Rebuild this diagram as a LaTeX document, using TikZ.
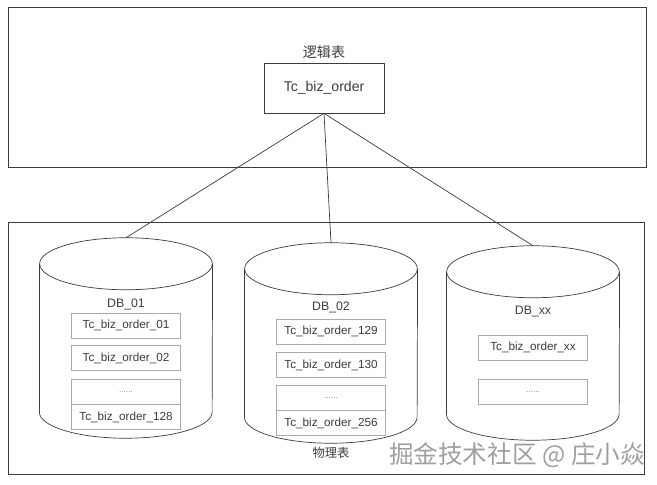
\documentclass[tikz,border=0pt]{standalone}
\usepackage{fontspec}
\setmainfont{Liberation Sans}
\newfontfamily\cjk{Noto Sans CJK SC}
\usepackage{tikz}
\usetikzlibrary{positioning}
\definecolor{inkgray}{HTML}{3C3C3C}
\definecolor{boxgray}{HTML}{ABABAB}

\begin{document}
\begin{tikzpicture}[
      x=0.03cm, y=0.03cm,
      frame/.style={rectangle, draw=inkgray, line width=0.6pt, inner sep=0pt},
      tbl/.style={rectangle, draw=inkgray, line width=0.6pt, fill=white, minimum width=3.6cm,
                  minimum height=1.5cm, text=inkgray, font=\fontsize{12}{14}\selectfont},
      dbbody/.style={rectangle, inner sep=0pt, minimum width=5.18cm, minimum height=6cm},
      dbname/.style={text=inkgray, font=\fontsize{10.5}{12}\selectfont},
      part/.style={rectangle, draw=boxgray, line width=0.45pt, minimum width=3.27cm, minimum height=0.75cm,
                   inner sep=0pt, text=inkgray, font=\fontsize{10}{12}\selectfont},
      dots/.style={part, text=gray, font=\fontsize{7}{8}\selectfont},
      link/.style={draw=inkgray, line width=0.6pt},
    ]
    \useasboundingbox (0,0) rectangle (657,484);

    % logical / physical frames
    \node[frame, minimum width=19.14cm, minimum height=4.8cm] (logic) at (327,397) {};
    \node[frame, minimum width=19.08cm, minimum height=7.56cm] (phys) at (326,136) {};

    \node[tbl] (o) at (324,396) {Tc\_biz\_order};
    \node[above=0pt of o, text=inkgray, font=\cjk\fontsize{12}{14}\selectfont] (ol) {逻辑表};

    % databases
    \node[dbbody] (db1) at (126,146) {};
    \node[dbbody] (db2) at (331,141) {};
    \node[dbbody, minimum height=5.82cm] (db3) at (533,141) {};
    \foreach \d in {db1,db2,db3} {
      \draw[link] ([yshift=-0.78cm]\d.north west) -- ([yshift=0.78cm]\d.south west)
        arc[start angle=180, end angle=360, x radius=2.59cm, y radius=0.78cm]
        -- ([yshift=-0.78cm]\d.north east);
      \draw[link] ([yshift=-0.78cm]\d.north) ellipse[x radius=2.59cm, y radius=0.78cm];
    }

    \node[dbname] (n1) at ([yshift=-2.01cm]db1.north) {DB\_01};
    \node[part, below=0.24cm of n1.center] (t11) {Tc\_biz\_order\_01};
    \node[part, below=0.21cm of t11] (t12) {Tc\_biz\_order\_02};
    \node[dots, below=0.24cm of t12] (t13) {......};
    \node[part, below=0pt of t13] (t14) {Tc\_biz\_order\_128};

    \node[dbname] (n2) at ([yshift=-1.95cm]db2.north) {DB\_02};
    \node[part, below=0.33cm of n2.center] (t21) {Tc\_biz\_order\_129};
    \node[part, below=0.24cm of t21] (t22) {Tc\_biz\_order\_130};
    \node[dots, below=0.21cm of t22] (t23) {......};
    \node[part, below=0pt of t23] (t24) {Tc\_biz\_order\_256};

    \node[dbname] (n3) at ([yshift=-1.98cm]db3.north) {DB\_xx};
    \node[part, below=0.69cm of n3.center] (t31) {Tc\_biz\_order\_xx};
    \node[dots, below=0.57cm of t31] (t32) {......};

    \node[below=0pt of db2, text=inkgray, font=\cjk\fontsize{10.5}{12}\selectfont] (pl) {物理表};
    \node[text=gray!75, font=\cjk\fontsize{21}{24}\selectfont] (wm) at (517,29) {掘金技术社区 @ 庄小焱};

    \draw[link] (o.south) -- (db1.north);
    \draw[link] (o.south) -- (db2.north);
    \draw[link] (o.south) -- (db3.north);
  \end{tikzpicture}
\end{document}
